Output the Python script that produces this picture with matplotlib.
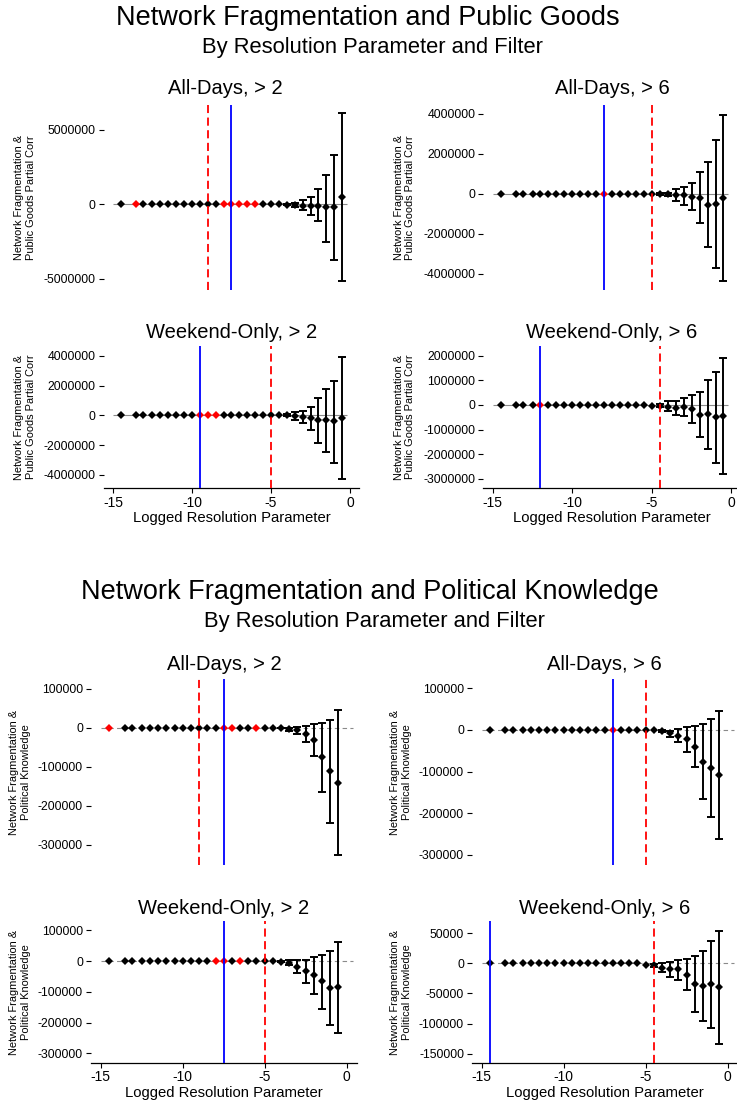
import matplotlib
matplotlib.use('Agg')
import matplotlib.pyplot as plt
import numpy as np
from matplotlib.ticker import FuncFormatter

plt.rcParams['font.family'] = ['Liberation Sans', 'DejaVu Sans']

W, H = 737, 1106

# logged resolution parameter of each estimate
log_res = [-14.5, -13.55, -13.1, -12.5, -12, -11.5, -11, -10.5, -10, -9.5, -9, -8.5, -8, -7.5,
           -7, -6.5, -6, -5.5, -5, -4.5, -4, -3.5, -3, -2.5, -2, -1.5, -1, -0.5]

# public goods, in millions (estimate, lower, upper)
pg_ad2_est = [0] * 18 + [0, 0, -0.02, -0.04, -0.09, -0.11, -0.11, -0.2, -0.2, 0.49]
pg_ad2_lo = [0] * 18 + [0, 0, -0.05, -0.16, -0.38, -0.72, -1.1, -2.5, -3.74, -5.13]
pg_ad2_hi = [0] * 18 + [0, 0, 0.03, 0.11, 0.29, 0.52, 1.01, 1.97, 3.3, 6.12]

pg_ad6_est = [0] * 18 + [0, -0.02, -0.03, -0.08, -0.08, -0.15, -0.22, -0.55, -0.52, -0.23]
pg_ad6_lo = [0] * 18 + [0, -0.05, -0.12, -0.35, -0.55, -0.82, -1.48, -2.68, -3.7, -4.35]
pg_ad6_hi = [0] * 18 + [0, 0.01, 0.05, 0.22, 0.35, 0.52, 1.08, 1.6, 2.68, 3.93]

pg_wo2_est = [0] * 18 + [0, 0, 0, -0.05, -0.1, -0.18, -0.3, -0.3, -0.37, -0.2]
pg_wo2_lo = [0] * 18 + [0, 0, -0.08, -0.3, -0.55, -1.0, -1.84, -2.5, -3.2, -4.28]
pg_wo2_hi = [0] * 18 + [0, 0, 0.08, 0.25, 0.3, 0.58, 1.15, 1.75, 2.33, 3.9]

pg_wo6_est = [0] * 18 + [-0.04, -0.04, -0.1, -0.13, -0.07, -0.15, -0.4, -0.38, -0.47, -0.45]
pg_wo6_lo = [0] * 18 + [-0.04, -0.1, -0.24, -0.4, -0.45, -0.74, -1.32, -1.78, -2.34, -2.8]
pg_wo6_hi = [0] * 18 + [-0.04, 0.02, 0.14, 0.18, 0.3, 0.4, 0.51, 1.01, 1.35, 1.9]

# political knowledge, in thousands
pk_ad2_est = [0] * 18 + [0, 0, -1, -4, -6, -16, -32, -76, -111, -141]
pk_ad2_lo = [0] * 18 + [0, 0, -2, -8, -15, -36, -73, -164, -245, -326]
pk_ad2_hi = [0] * 18 + [0, 0, 0, 0, 3, 4, 9, 13, 20, 45]

pk_ad6_est = [0] * 18 + [0, 0, -3, -8, -14, -22, -40, -77, -91, -107]
pk_ad6_lo = [0] * 18 + [0, 0, -6, -16, -30, -52, -90, -166, -210, -261]
pk_ad6_hi = [0] * 18 + [0, 0, 0, -2, 3, 6, 10, 14, 26, 46]

pk_wo2_est = [0] * 18 + [0, 0, -2, -5, -18, -31, -45, -65, -86, -83]
pk_wo2_lo = [0] * 18 + [0, 0, -4, -13, -40, -70, -107, -155, -209, -235]
pk_wo2_hi = [0] * 18 + [0, 0, 0, 2, 3, 3, 14, 21, 34, 63]

pk_wo6_est = [0] * 18 + [-3, -3.5, -8, -10, -10, -19, -34, -37, -35, -40]
pk_wo6_lo = [0] * 18 + [-3, -6, -15, -23, -27, -45, -81, -95, -107, -134]
pk_wo6_hi = [0] * 18 + [-3, -1, 1, 3, 5, 8, 13, 21, 38, 54]

panel_titles = ['All-Days, > 2', 'All-Days, > 6', 'Weekend-Only, > 2', 'Weekend-Only, > 6'] * 2
red_dashed = [-9, -5, -5, -4.5, -9, -5, -5, -4.5]
blue_solid = [-7.5, -8, -9.5, -12, -7.5, -7, -7.5, -14.5]
red_points = [[-13.55, -8, -7.5, -7, -6.5, -6], [-8], [-9.5, -9, -8.5], [-12],
              [-14.5, -7.5, -7, -5.5], [-7], [-8, -7.5, -6.5], []]
estimates = [pg_ad2_est, pg_ad6_est, pg_wo2_est, pg_wo6_est, pk_ad2_est, pk_ad6_est, pk_wo2_est, pk_wo6_est]
lowers = [pg_ad2_lo, pg_ad6_lo, pg_wo2_lo, pg_wo6_lo, pk_ad2_lo, pk_ad6_lo, pk_wo2_lo, pk_wo6_lo]
uppers = [pg_ad2_hi, pg_ad6_hi, pg_wo2_hi, pg_wo6_hi, pk_ad2_hi, pk_ad6_hi, pk_wo2_hi, pk_wo6_hi]
units = [1e6] * 4 + [1e3] * 4
y_ticks = [[-5e6, 0, 5e6], [-4e6, -2e6, 0, 2e6, 4e6], [-4e6, -2e6, 0, 2e6, 4e6],
           [-3e6, -2e6, -1e6, 0, 1e6, 2e6],
           [-3e5, -2e5, -1e5, 0, 1e5], [-3e5, -2e5, -1e5, 0, 1e5], [-3e5, -2e5, -1e5, 0, 1e5],
           [-1.5e5, -1e5, -5e4, 0, 5e4]]
y_limits = [(-5.76e6, 6.68e6), (-4.82e6, 4.43e6), (-4.91e6, 4.66e6), (-3.38e6, 2.39e6),
            (-3.52e5, 1.24e5), (-3.24e5, 1.216e5), (-3.30e5, 1.31e5), (-1.65e5, 7.09e4)]
y_labels = ['Network Fragmentation &\nPublic Goods Partial Corr'] * 4 + \
           ['Network Fragmentation &\nPolitical Knowledge'] * 4

# layout in pixels: (left, right, top, bottom) of each plot region
boxes = [(103.5, 359.5, 105, 290), (483.2, 741, 105, 290),
         (103.5, 359.5, 346, 488.3), (483.2, 741, 346, 488.3),
         (90.9, 356.5, 679.3, 865), (471.9, 737.4, 679.3, 865),
         (90.9, 356.5, 920.7, 1062.7), (471.9, 737.4, 920.7, 1062.7)]
title_pos = [(225.5, 89), (612, 89), (231.7, 332), (612, 332),
             (224, 665), (604.5, 665), (224, 908), (605, 908)]
ylabel_pos = [(25, 197.5), (404.5, 197.5), (25, 417), (404.5, 417),
              (20, 772), (401, 772), (20, 992), (401, 992)]


def fx(px):
    return px / W


def fy(py):
    return 1 - py / H


fig = plt.figure(figsize=(W / 100, H / 100), dpi=100)
fig.patch.set_facecolor('white')

fig.text(fx(368), fy(18), 'Network Fragmentation and Public Goods', ha='center', va='center', fontsize=19.5)
fig.text(fx(372), fy(48), 'By Resolution Parameter and Filter', ha='center', va='center', fontsize=15.8)
fig.text(fx(370), fy(592), 'Network Fragmentation and Political Knowledge', ha='center', va='center', fontsize=19.5)
fig.text(fx(374), fy(622), 'By Resolution Parameter and Filter', ha='center', va='center', fontsize=15.8)

x = np.array(log_res)
for i in range(8):
    l, r, t, b = boxes[i]
    ax = fig.add_axes([fx(l), fy(b), (r - l) / W, (b - t) / H])
    ax.set_facecolor('none')
    u = units[i]
    est = np.array(estimates[i]) * u
    lo = np.array(lowers[i]) * u
    hi = np.array(uppers[i]) * u

    zero_style = '-' if i < 4 else (0, (4, 3))
    ax.hlines(0, -15, -0.2 if i < 4 else 0.4, color='#8a8a8a', lw=0.8, linestyles=zero_style, zorder=1)

    has_bar = (hi - lo) > 0
    ax.errorbar(x[has_bar], est[has_bar], yerr=[est[has_bar] - lo[has_bar], hi[has_bar] - est[has_bar]],
                fmt='none', ecolor='black', elinewidth=1.4, capsize=2.9, capthick=1.4, zorder=2)
    is_red = np.isin(x, red_points[i])
    ax.plot(x[~is_red], est[~is_red], 'D', color='black', ms=4.4, mew=0, zorder=3)
    ax.plot(x[is_red], est[is_red], 'D', color='red', ms=4.4, mew=0, zorder=3)

    ax.axvline(blue_solid[i], color='#0000ff', lw=1.3, zorder=4)
    ax.axvline(red_dashed[i], color='#ff0000', lw=1.3, linestyle=(0, (4.5, 2.5)), zorder=4)

    ax.set_xlim(-15.6, 0.6)
    ax.set_ylim(*y_limits[i])
    ax.set_yticks(y_ticks[i])
    ax.yaxis.set_major_formatter(FuncFormatter(lambda v, p: '%d' % round(v)))
    ax.tick_params(axis='y', length=3.6, width=0.8, labelsize=8.8, pad=2)

    for side in ['top', 'right', 'left']:
        ax.spines[side].set_visible(False)
    if i in (2, 3, 6, 7):
        ax.spines['bottom'].set_linewidth(0.9)
        ax.set_xticks([-15, -10, -5, 0])
        ax.set_xticklabels(['-15', '-10', '-5', '0'])
        ax.tick_params(axis='x', length=3.6, width=0.8, labelsize=10, pad=2)
        ax.set_xlabel('Logged Resolution Parameter', fontsize=10.7, labelpad=1)
    else:
        ax.spines['bottom'].set_visible(False)
        ax.tick_params(axis='x', bottom=False, labelbottom=False)

    tx, ty = title_pos[i]
    fig.text(fx(tx), fy(ty), panel_titles[i], ha='center', va='center', fontsize=14.5)
    lx, ly = ylabel_pos[i]
    fig.text(fx(lx), fy(ly), y_labels[i], ha='center', va='center', rotation=90, fontsize=7.9,
             linespacing=1.15)

fig.savefig('out.png', dpi=100, facecolor='white')
